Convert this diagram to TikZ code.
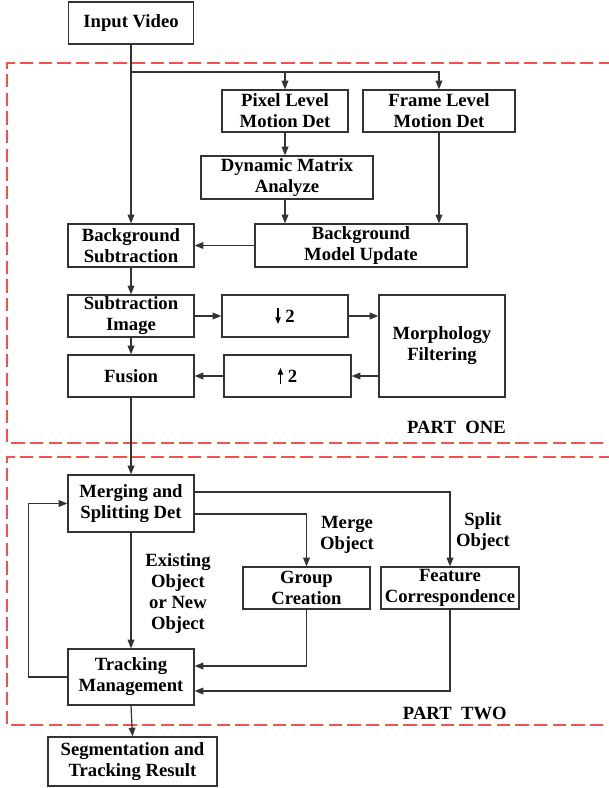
\documentclass[tikz,border=0pt]{standalone}
\usepackage{fontspec}
\setmainfont{Liberation Serif}
\usetikzlibrary{arrows.meta}
\definecolor{partred}{RGB}{245,80,80}
\newcommand{\myarrdown}{\tikz[x=1pt,y=1pt,baseline=0pt]\draw[line width=0.9pt,-{Triangle[length=5pt,width=4pt]}] (0,11) -- (0,-1);}
\newcommand{\myarrup}{\tikz[x=1pt,y=1pt,baseline=0pt]\draw[line width=0.9pt,-{Triangle[length=5pt,width=4pt]}] (0,-1) -- (0,11);}
\begin{document}
\begin{tikzpicture}[x=0.75pt,y=-0.75pt,
  font=\fontsize{14}{15.75}\selectfont\bfseries,
  box/.style={draw=black!80,line width=0.9pt,align=center,inner sep=1pt,minimum height=31.5pt},
  arr/.style={draw=black!80,line width=0.9pt,-{Triangle[length=6.5pt,width=5pt]}},
  part/.style={draw=partred,line width=0.9pt,dash pattern=on 10pt off 4pt},
  lbl/.style={align=center,inner sep=0pt}]
\useasboundingbox (0,0) rectangle (608,788);
\fill[white] (0,0) rectangle (608,788);
% part frames
\draw[part] (612,63) -- (7,63) -- (7,443) -- (612,443);
\draw[part] (612,457) -- (7,457) -- (7,725) -- (612,725);
% boxes
\node[box,minimum width=93.75pt] (iv) at (131,23) {Input Video};
\node[box,minimum width=94.5pt] (pix) at (285,111) {Pixel Level\\Motion Det};
\node[box,minimum width=114pt] (frm) at (439,111) {Frame Level\\Motion Det};
\node[box,minimum width=129pt,minimum height=32.25pt] (dyn) at (287,177.5) {Dynamic Matrix\\Analyze};
\node[box,minimum width=94.5pt,minimum height=32.25pt] (bs) at (131,245.5) {Background\\Subtraction};
\node[box,minimum width=159pt,minimum height=32.25pt] (bmu) at (361,245.5) {Background\\Model Update};
\node[box,minimum width=94.5pt] (si) at (131,316) {Subtraction\\Image};
\node[box,minimum width=94.5pt] (dn) at (285,316) {\myarrdown\ 2};
\node[box,minimum width=94.5pt,minimum height=76.5pt] (mor) at (442,346) {Morphology\\Filtering};
\node[box,minimum width=94.5pt] (fus) at (131,376) {Fusion};
\node[box,minimum width=95.25pt] (up) at (287.5,376) {\myarrup\ 2};
\node[box,minimum width=94.5pt,minimum height=42.75pt] (mer) at (131,503.5) {Merging and\\Splitting Det};
\node[box,minimum width=95.25pt] (gc) at (306.5,588) {Group\\Creation};
\node[box,minimum width=103.5pt] (fc) at (450,588) {Feature\\Correspondence};
\node[box,minimum width=94.5pt,minimum height=42pt] (tm) at (131,677) {Tracking\\Management};
\node[box,minimum width=126.75pt,minimum height=36.75pt] (seg) at (132.5,761.5) {Segmentation and\\Tracking Result};
% labels
\node[lbl] (lmerge) at (347,535) {Merge\\Object};
\node[lbl] (lsplit) at (483,532) {Split\\Object};
\node[lbl] (lexist) at (178,593.5) {Existing\\Object\\or New\\Object};
\node[lbl,anchor=east] (p1) at (506,427) {PART\ \ ONE};
\node[lbl,anchor=east] (p2) at (507,713) {PART\ \ TWO};
% connectors part one
\coordinate (br) at (131,72);
\draw[arr] (iv.south) -- (bs.north);
\draw[arr] (br) -| (pix.north);
\draw[arr] (br) -| (frm.north);
\draw[arr] (pix.south) -- (pix.south |- dyn.north);
\draw[arr] (pix.south |- dyn.south) -- (pix.south |- bmu.north);
\draw[arr] (frm.south) -- (frm.south |- bmu.north);
\draw[arr] (bmu.west) -- (bs.east);
\draw[arr] (bs.south) -- (si.north);
\draw[arr] (si.south) -- (fus.north);
\draw[arr] (si.east) -- (dn.west);
\draw[arr] (dn.east) -- (mor.west |- dn.east);
\draw[arr] (mor.west |- up.east) -- (up.east);
\draw[arr] (up.west) -- (fus.east);
\draw[arr] (fus.south) -- (mer.north);
% connectors part two
\draw[arr] ([yshift=8.6pt]mer.east) -| (fc.north);
\draw[arr] ([yshift=-7.9pt]mer.east) -| (gc.north);
\draw[arr] (mer.south) -- (tm.north);
\draw[arr] (gc.south) |- ([yshift=8.25pt]tm.east);
\draw[arr] (fc.south) |- ([yshift=-10.5pt]tm.east);
\draw[arr] (tm.west) -- ++(-39,0) |- (mer.west);
\draw[arr] (tm.south) -- (seg.north);
\end{tikzpicture}
\end{document}
